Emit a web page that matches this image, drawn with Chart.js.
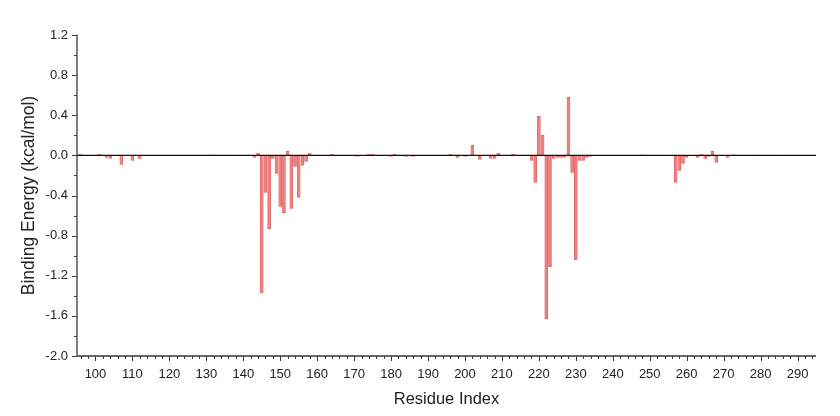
<!DOCTYPE html>
<html>
<head>
<meta charset="utf-8">
<script src="https://cdn.jsdelivr.net/npm/chart.js@4/dist/chart.umd.min.js"></script>
<style>
html,body{margin:0;padding:0;background:#fff;}
#wrap{width:840px;height:416px;position:relative;}
</style>
</head>
<body>
<div id="wrap"><canvas id="c" width="840" height="416"></canvas></div>
<script>
const residues = [96,101,103,104,107,110,112,132,139,143,144,145,146,147,148,149,150,151,152,153,154,155,156,157,158,164,171,174,175,180,181,184,186,196,198,200,202,204,207,208,209,213,216,218,219,220,221,222,223,224,225,226,227,228,229,230,231,232,233,234,248,257,258,259,260,263,264,265,266,267,268,271,273,279,285];
const energies = [0.01,0.01,-0.02,-0.03,-0.09,-0.05,-0.03,0.005,-0.005,-0.02,0.02,-1.37,-0.37,-0.73,-0.03,-0.18,-0.51,-0.57,0.04,-0.53,-0.11,-0.42,-0.10,-0.06,0.02,0.01,-0.01,0.01,0.01,-0.01,0.01,-0.01,-0.01,0.01,-0.02,-0.01,0.10,-0.04,-0.03,-0.03,0.02,0.01,-0.005,-0.05,-0.27,0.39,0.20,-1.63,-1.11,-0.03,-0.02,-0.02,-0.02,0.58,-0.17,-1.04,-0.05,-0.05,-0.02,-0.01,0.005,-0.27,-0.15,-0.08,-0.02,-0.02,0.01,-0.03,-0.01,0.04,-0.07,-0.02,0.005,-0.005,-0.005];
const xTicks = [100,110,120,130,140,150,160,170,180,190,200,210,220,230,240,250,260,270,280,290];
const yTicks = [-2.0,-1.6,-1.2,-0.8,-0.4,0.0,0.4,0.8,1.2];
const xLabel = 'Residue Index';
const yLabel = 'Binding Energy (kcal/mol)';

const axisColor = '#3a3a3a';
const textColor = '#222';
const fontFam = '"Liberation Sans", Arial, sans-serif';

const extras = {
  id: 'extras',
  afterDatasetsDraw(chart) {
    const ctx = chart.ctx, ca = chart.chartArea;
    const xs = chart.scales.x, ys = chart.scales.y;
    ctx.save();
    const y0 = ys.getPixelForValue(0);
    ctx.strokeStyle = '#111';
    ctx.lineWidth = 1.3;
    ctx.beginPath(); ctx.moveTo(ca.left, y0); ctx.lineTo(ca.right, y0); ctx.stroke();
    ctx.strokeStyle = axisColor;
    ctx.lineWidth = 1.3;
    ctx.beginPath();
    ctx.moveTo(ca.left, ca.top - 0.5); ctx.lineTo(ca.left, ca.bottom); ctx.lineTo(ca.right, ca.bottom);
    ctx.stroke();
    ctx.lineWidth = 1;
    ctx.beginPath();
    for (let v = 96; v <= 294; v += 2) {
      const px = Math.round(xs.getPixelForValue(v)) + 0.5;
      const len = (v % 10 === 0) ? 5 : 3;
      ctx.moveTo(px, ca.bottom); ctx.lineTo(px, ca.bottom + len);
    }
    for (let i = 0; i <= 16; i++) {
      const v = -2.0 + i * 0.2;
      const py = Math.round(ys.getPixelForValue(v)) + 0.5;
      const len = (i % 2 === 0) ? 5 : 3;
      ctx.moveTo(ca.left, py); ctx.lineTo(ca.left - len, py);
    }
    ctx.stroke();
    ctx.restore();
  }
};

new Chart(document.getElementById('c'), {
  type: 'bar',
  data: {
    datasets: [{
      data: residues.map((r, i) => ({x: r, y: energies[i]})),
      backgroundColor: 'rgba(240,128,128,1)',
      borderColor: 'rgba(215,95,95,1)',
      borderWidth: 0.6,
      barThickness: 3,
      borderSkipped: false
    }]
  },
  options: {
    responsive: false,
    animation: false,
    plugins: { legend: {display: false}, tooltip: {enabled: false} },
    layout: { padding: {top: 35, right: 24, bottom: 7, left: 19} },
    scales: {
      x: {
        type: 'linear',
        min: 95, max: 295,
        offset: false,
        afterBuildTicks(s) { s.ticks = xTicks.map(v => ({value: v})); },
        afterFit(s) { s.height = 416 - 356 - 7; },
        grid: { display: false, drawTicks: false },
        border: { display: false },
        ticks: { color: textColor, font: {family: fontFam, size: 13}, padding: 11, maxRotation: 0, autoSkip: false },
        title: { display: true, text: xLabel, color: textColor, font: {family: fontFam, size: 16.5}, padding: {top: 2, bottom: 0} }
      },
      y: {
        min: -2.0, max: 1.2,
        afterBuildTicks(s) { s.ticks = yTicks.map(v => ({value: v})); },
        afterFit(s) { s.width = 77 - 19; },
        grid: { display: false, drawTicks: false },
        border: { display: false },
        ticks: { color: textColor, font: {family: fontFam, size: 13}, padding: 9, callback: v => Number(v).toFixed(1) },
        title: { display: true, text: yLabel, color: textColor, font: {family: fontFam, size: 17.5}, padding: {top: 0, bottom: 4} }
      }
    }
  },
  plugins: [extras]
});
</script>
</body>
</html>
